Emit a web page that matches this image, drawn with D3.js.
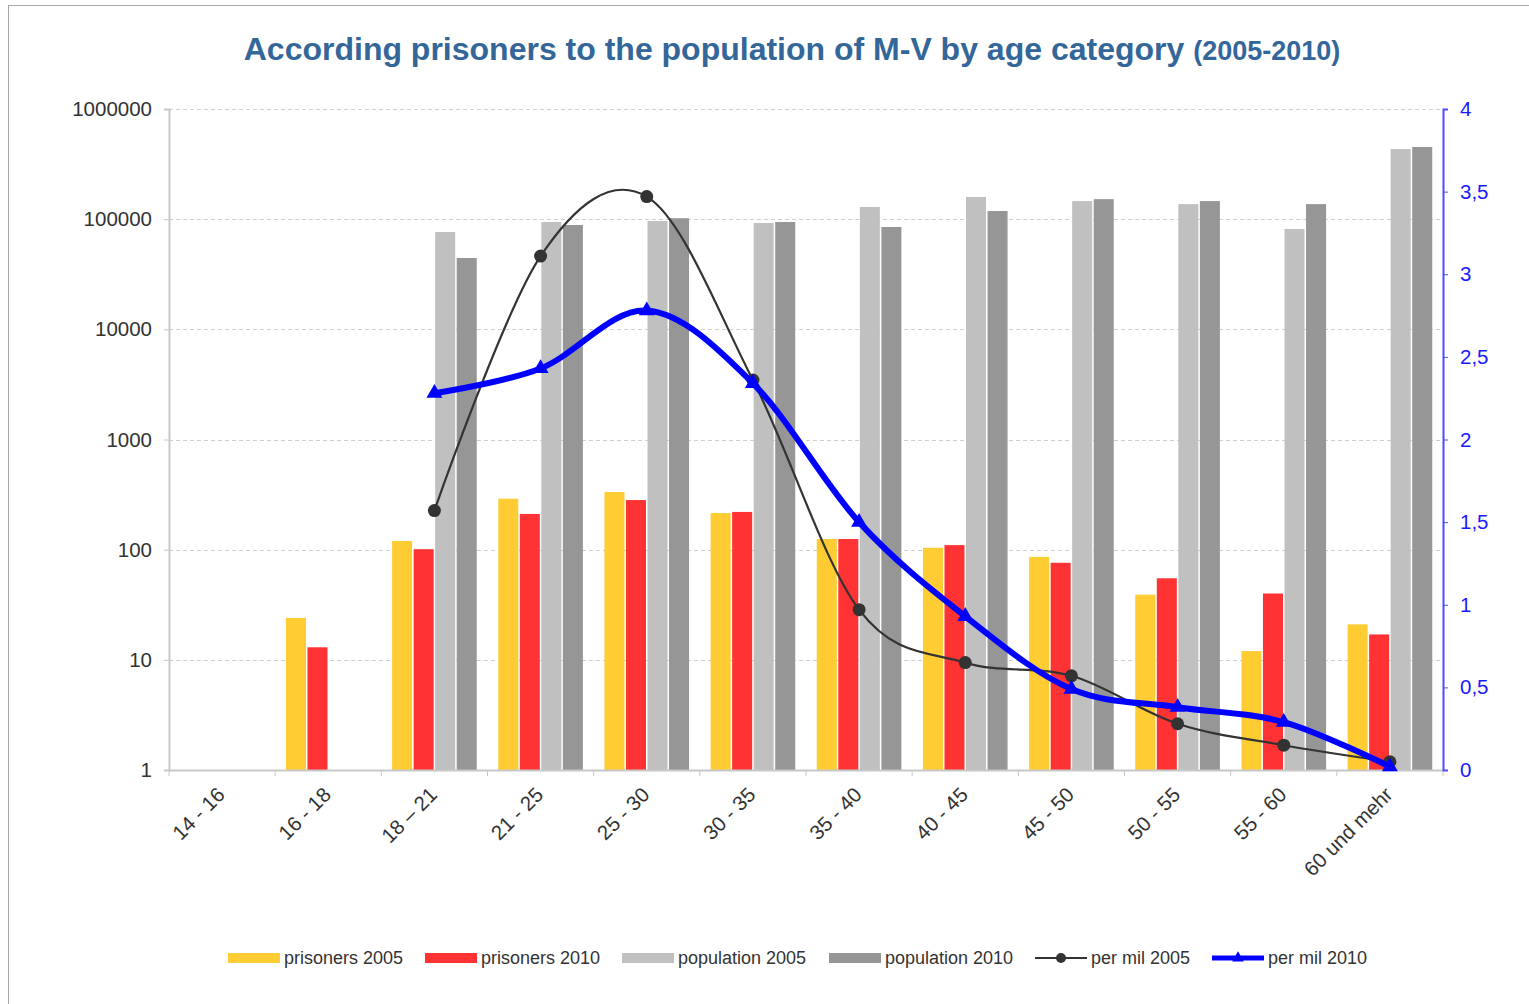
<!DOCTYPE html>
<meta charset="utf-8">
<style>
  body { margin: 0; background: #fff; }
  text { font-family: "Liberation Sans", Arial, sans-serif; }
</style>
<body>
<svg width="1529" height="1004"></svg>

<script src="https://cdn.jsdelivr.net/npm/d3@7/dist/d3.min.js"></script>
<script>

// age categories
var categories = ["14 - 16", "16 - 18", "18 \u2013 21", "21 - 25", "25 - 30", "30 - 35",
                  "35 - 40", "40 - 45", "45 - 50", "50 - 55", "55 - 60", "60 und mehr"];

// left axis (log) values, null = no bar
var prisoners2005  = [null, 24, 120, 290, 334, 215, 125, 104, 86, 39, 12, 21];
var prisoners2010  = [null, 13, 101, 211, 282, 220, 125, 110, 76, 55, 40, 17];
var population2005 = [null, null, 76400, 94200, 96200, 92300, 129000, 159000, 146000, 137000, 81400, 433000];
var population2010 = [null, null, 44400, 88500, 102000, 94200, 84900, 118500, 152000, 146000, 137000, 452000];

// right axis values (per mil)
var perMil2005 = [null, null, 1.57, 3.11, 3.47, 2.36, 0.97, 0.65, 0.57, 0.28, 0.15, 0.05];
var perMil2010 = [null, null, 2.28, 2.43, 2.78, 2.34, 1.50, 0.93, 0.49, 0.38, 0.29, 0.02];

var leftTicks  = [1, 10, 100, 1000, 10000, 100000, 1000000];
var rightTicks = [0, 0.5, 1, 1.5, 2, 2.5, 3, 3.5, 4];

var barSeries = [
  {name: "prisoners 2005",  values: prisoners2005,  color: "#FFCC33"},
  {name: "prisoners 2010",  values: prisoners2010,  color: "#FF3333"},
  {name: "population 2005", values: population2005, color: "#C0C0C0"},
  {name: "population 2010", values: population2010, color: "#969696"}
];

var svg = d3.select("svg"),
    margin = {top: 109, right: 86, bottom: 234, left: 169},
    width  = +svg.attr("width") - margin.left - margin.right,
    height = +svg.attr("height") - margin.top - margin.bottom;

// outer frame
svg.append("rect")
    .attr("x", 8.5).attr("y", 5.5)
    .attr("width", 1540).attr("height", 1020)
    .attr("fill", "none")
    .attr("stroke", "#a6a6a6");

// title
var title = svg.append("text")
    .attr("x", 792)
    .attr("y", 60)
    .attr("text-anchor", "middle")
    .attr("fill", "#336699")
    .attr("font-weight", "bold")
    .attr("font-size", 32);
title.append("tspan").text("According prisoners to the population of M-V by age category ");
title.append("tspan").attr("font-size", 27).text("(2005-2010)");

var g = svg.append("g")
    .attr("transform", "translate(" + margin.left + "," + margin.top + ")");

// scales
var x0 = d3.scaleBand().domain(categories).range([0, width]);
var x1 = d3.scaleBand().domain(barSeries.map(function(d) { return d.name; }))
    .range([0, x0.bandwidth()])
    .paddingInner(0.07)
    .paddingOuter(0.5);
var y  = d3.scaleLog().domain([1, 1000000]).range([height, 0]);
var y2 = d3.scaleLinear().domain([0, 4]).range([height, 0]);

// grid lines
g.append("g")
    .selectAll("line")
    .data(leftTicks.slice(1))
    .enter().append("line")
    .attr("x1", 0).attr("x2", width)
    .attr("y1", function(d) { return Math.round(y(d)) + 0.5; })
    .attr("y2", function(d) { return Math.round(y(d)) + 0.5; })
    .attr("stroke", "#cfcfcf")
    .attr("stroke-dasharray", "4,3");

// bars
barSeries.forEach(function(s) {
  g.append("g")
      .selectAll("rect")
      .data(s.values.map(function(v, i) { return {cat: categories[i], v: v}; })
                    .filter(function(d) { return d.v; }))
      .enter().append("rect")
      .attr("x", function(d) { return x0(d.cat) + x1(s.name); })
      .attr("width", x1.bandwidth())
      .attr("y", function(d) { return y(d.v); })
      .attr("height", function(d) { return height - y(d.v); })
      .attr("fill", s.color);
});

// left axis
var yAxis = d3.axisLeft(y).tickValues(leftTicks).tickFormat(d3.format("d")).tickSize(5).tickPadding(12);
var ya = g.append("g").call(yAxis);
ya.select(".domain").attr("stroke", "#c8c8c8").attr("stroke-width", 2);
ya.selectAll(".tick line").attr("stroke", "#c8c8c8");
ya.selectAll("text").attr("fill", "#333").attr("font-size", 20.5)
    .attr("font-family", "\"Liberation Sans\", Arial, sans-serif");

// x axis
var xAxis = d3.axisBottom(x0).tickSize(0).tickFormat("");
var xa = g.append("g").attr("transform", "translate(0," + height + ")").call(xAxis);
xa.select(".domain").attr("stroke", "#c8c8c8").attr("stroke-width", 2);
xa.selectAll(".bound")
    .data(d3.range(categories.length + 1))
    .enter().append("line")
    .attr("x1", function(i) { return i * x0.step(); })
    .attr("x2", function(i) { return i * x0.step(); })
    .attr("y1", 0).attr("y2", 6)
    .attr("stroke", "#c8c8c8");
xa.selectAll(".lab")
    .data(categories)
    .enter().append("text")
    .attr("text-anchor", "end")
    .attr("fill", "#333")
    .attr("font-size", 20.5)
    .attr("transform", function(d) {
      return "translate(" + (x0(d) + x0.bandwidth() / 2 + 4) + ",26) rotate(-45)";
    })
    .text(function(d) { return d; });

// right axis
var yAxis2 = d3.axisRight(y2).tickValues(rightTicks)
    .tickFormat(function(d) { return String(d).replace(".", ","); })
    .tickSize(5).tickPadding(12);
var yb = g.append("g").attr("transform", "translate(" + width + ",0)").call(yAxis2);
yb.select(".domain").attr("stroke", "#4d4dff").attr("stroke-width", 2);
yb.selectAll(".tick line").attr("stroke", "#4d4dff");
yb.selectAll("text").attr("fill", "#1a1aff").attr("font-size", 20.5)
    .attr("font-family", "\"Liberation Sans\", Arial, sans-serif");

// per mil lines
function pts(values) {
  return values.map(function(v, i) { return {cat: categories[i], v: v}; })
               .filter(function(d) { return d.v !== null; });
}
var line = d3.line()
    .curve(d3.curveCatmullRom.alpha(0))
    .x(function(d) { return x0(d.cat) + x0.bandwidth() / 2; })
    .y(function(d) { return y2(d.v); });

var p2005 = pts(perMil2005), p2010 = pts(perMil2010);

g.append("path")
    .datum(p2005)
    .attr("d", line)
    .attr("fill", "none")
    .attr("stroke", "#333")
    .attr("stroke-width", 2.2);
g.append("g").selectAll("circle")
    .data(p2005)
    .enter().append("circle")
    .attr("cx", function(d) { return x0(d.cat) + x0.bandwidth() / 2; })
    .attr("cy", function(d) { return y2(d.v); })
    .attr("r", 6.5)
    .attr("fill", "#333");

g.append("path")
    .datum(p2010)
    .attr("d", line)
    .attr("fill", "none")
    .attr("stroke", "#0000ff")
    .attr("stroke-width", 6);
var tri = d3.symbol().type(d3.symbolTriangle).size(110);
g.append("g").selectAll("path")
    .data(p2010)
    .enter().append("path")
    .attr("d", tri)
    .attr("transform", function(d) {
      return "translate(" + (x0(d.cat) + x0.bandwidth() / 2) + "," + y2(d.v) + ")";
    })
    .attr("fill", "#0000ff");

// legend
var legendItems = [
  {name: "prisoners 2005",  color: "#FFCC33", type: "bar",  x: 228},
  {name: "prisoners 2010",  color: "#FF3333", type: "bar",  x: 425},
  {name: "population 2005", color: "#C0C0C0", type: "bar",  x: 622},
  {name: "population 2010", color: "#969696", type: "bar",  x: 829},
  {name: "per mil 2005",    color: "#333",    type: "dot",  x: 1035},
  {name: "per mil 2010",    color: "#0000ff", type: "tri",  x: 1212}
];
var legend = svg.append("g").attr("transform", "translate(0,958)");
var li = legend.selectAll("g")
    .data(legendItems)
    .enter().append("g")
    .attr("transform", function(d) { return "translate(" + d.x + ",0)"; });
li.filter(function(d) { return d.type === "bar"; })
    .append("rect")
    .attr("x", 0).attr("y", -5)
    .attr("width", 52).attr("height", 10)
    .attr("fill", function(d) { return d.color; });
li.filter(function(d) { return d.type !== "bar"; })
    .append("line")
    .attr("x1", 0).attr("x2", 52)
    .attr("stroke", function(d) { return d.color; })
    .attr("stroke-width", function(d) { return d.type === "tri" ? 5 : 2.2; });
li.filter(function(d) { return d.type === "dot"; })
    .append("circle")
    .attr("cx", 26).attr("r", 5)
    .attr("fill", "#333");
li.filter(function(d) { return d.type === "tri"; })
    .append("path")
    .attr("d", d3.symbol().type(d3.symbolTriangle).size(60))
    .attr("transform", "translate(26,0)")
    .attr("fill", "#0000ff");
li.append("text")
    .attr("x", 56)
    .attr("dy", "0.35em")
    .attr("fill", "#333")
    .attr("font-size", 18)
    .text(function(d) { return d.name; });

</script>
</body>
